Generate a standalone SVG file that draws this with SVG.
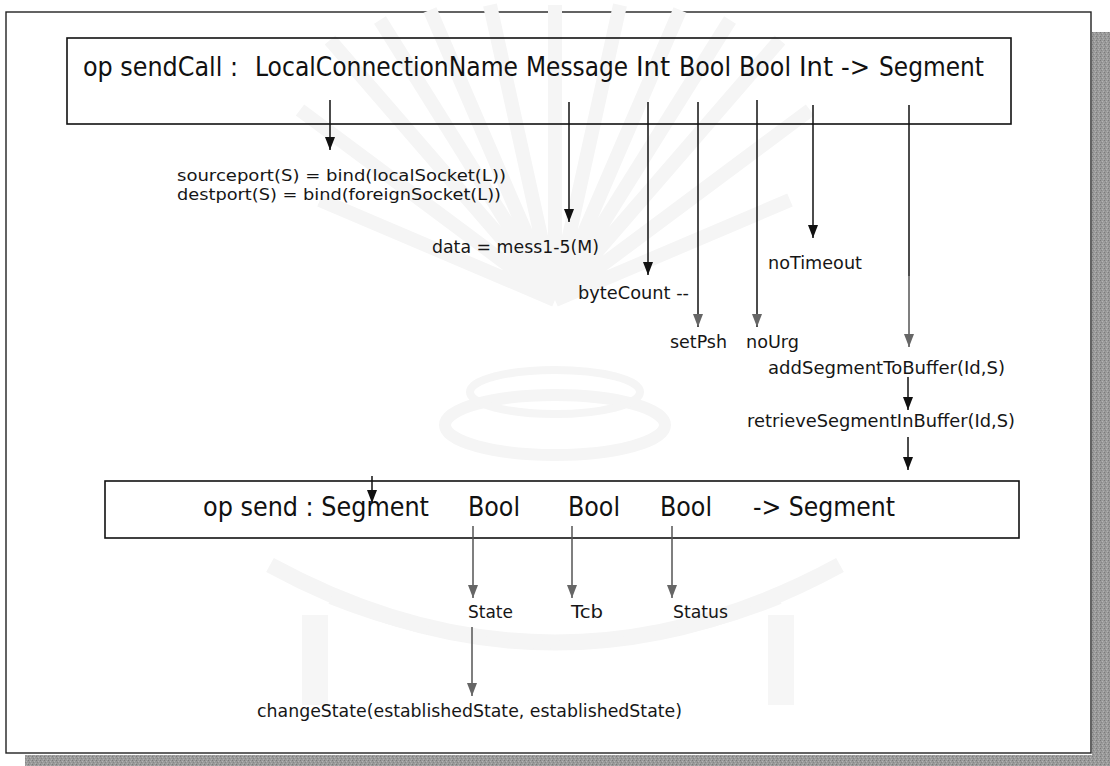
<svg xmlns="http://www.w3.org/2000/svg" width="1110" height="766" viewBox="0 0 1110 766">
  <style>
    .lbl { font-family: "DejaVu Sans", "Liberation Sans", sans-serif; font-size: 18px; fill: #161616; }
    .lbl-s { font-family: "DejaVu Sans", "Liberation Sans", sans-serif; font-size: 16px; fill: #161616; }
    .big { font-family: "DejaVu Sans Condensed", "DejaVu Sans", sans-serif; font-size: 27px; fill: #111; }
    .box { fill: none; stroke: #111; stroke-width: 1.6; }
    .frame { fill: #fff; stroke: #222; stroke-width: 1.4; }
    .wire { stroke: #111; stroke-width: 1.5; fill: none; }
    .wire-g { stroke: #555; stroke-width: 1.5; fill: none; }
    .wm { fill: none; stroke: #f5f5f5; }
  </style>
  <defs>
    <marker id="ah" viewBox="0 0 13 10" refX="13" refY="5" markerWidth="13" markerHeight="10" markerUnits="userSpaceOnUse" orient="auto">
      <path d="M0,0 L13,5 L0,10 z" fill="#111"/>
    </marker>
    <marker id="ahg" viewBox="0 0 13 10" refX="13" refY="5" markerWidth="13" markerHeight="10" markerUnits="userSpaceOnUse" orient="auto">
      <path d="M0,0 L13,5 L0,10 z" fill="#666"/>
    </marker>
    <pattern id="grain" width="4" height="4" patternUnits="userSpaceOnUse">
      <rect width="4" height="4" fill="#9a9a9a"/>
      <rect x="0" y="0" width="1" height="1" fill="#7a7a7a"/>
      <rect x="2" y="1" width="1" height="1" fill="#b4b4b4"/>
      <rect x="1" y="2" width="1" height="1" fill="#858585"/>
      <rect x="3" y="3" width="1" height="1" fill="#b0b0b0"/>
    </pattern>
  </defs>

  <rect width="1110" height="766" fill="#fff"/>

  <!-- drop shadow of the page frame -->
  <g id="shadow">
    <rect x="1092" y="32" width="18" height="734" fill="url(#grain)"/>
    <rect x="25" y="755" width="1085" height="11" fill="url(#grain)"/>
  </g>

  <!-- page frame -->
  <rect id="frame" class="frame" x="6" y="12" width="1085" height="741"/>

  <!-- faint background emblem -->
  <g id="watermark">
    <g class="wm" stroke-width="14">
      <path d="M555,300 L330,40 M555,300 L380,20 M555,300 L430,10 M555,300 L490,5 M555,300 L555,5 M555,300 L620,5 M555,300 L680,10 M555,300 L730,20 M555,300 L780,40 M555,300 L300,110 M555,300 L810,110 M555,300 L320,200 M555,300 L790,200"/>
    </g>
    <ellipse class="wm" cx="555" cy="425" rx="110" ry="30" stroke-width="12"/>
    <ellipse class="wm" cx="555" cy="392" rx="85" ry="22" stroke-width="8"/>
    <path class="wm" d="M270,565 Q555,720 840,565" stroke-width="16"/>
    <path class="wm" d="M330,600 Q555,690 780,600" stroke-width="8"/>
    <rect x="302" y="615" width="26" height="90" fill="#f6f6f6"/>
    <rect x="768" y="615" width="26" height="90" fill="#f6f6f6"/>
  </g>

  <!-- signature of sendCall -->
  <g id="node-sendCall">
    <rect class="box" x="67" y="38" width="944" height="86"/>
    <text class="big" x="83" y="76" textLength="155" lengthAdjust="spacingAndGlyphs">op sendCall :</text>
    <text class="big" x="255" y="76" textLength="263" lengthAdjust="spacingAndGlyphs">LocalConnectionName</text>
    <text class="big" x="526" y="76" textLength="102" lengthAdjust="spacingAndGlyphs">Message</text>
    <text class="big" x="636" y="76" textLength="34" lengthAdjust="spacingAndGlyphs">Int</text>
    <text class="big" x="679" y="76" textLength="52" lengthAdjust="spacingAndGlyphs">Bool</text>
    <text class="big" x="739" y="76" textLength="52" lengthAdjust="spacingAndGlyphs">Bool</text>
    <text class="big" x="799" y="76" textLength="34" lengthAdjust="spacingAndGlyphs">Int</text>
    <text class="big" x="841" y="76" textLength="29" lengthAdjust="spacingAndGlyphs">-&gt;</text>
    <text class="big" x="879" y="76" textLength="105" lengthAdjust="spacingAndGlyphs">Segment</text>
  </g>

  <!-- signature of send -->
  <g id="node-send">
    <rect class="box" x="105" y="481" width="914" height="57"/>
    <text class="big" x="203" y="516" textLength="226" lengthAdjust="spacingAndGlyphs">op send : Segment</text>
    <text class="big" x="468" y="516" textLength="52" lengthAdjust="spacingAndGlyphs">Bool</text>
    <text class="big" x="568" y="516" textLength="52" lengthAdjust="spacingAndGlyphs">Bool</text>
    <text class="big" x="660" y="516" textLength="52" lengthAdjust="spacingAndGlyphs">Bool</text>
    <text class="big" x="753" y="516" textLength="142" lengthAdjust="spacingAndGlyphs">-&gt; Segment</text>
  </g>

  <g id="node-ports">
    <text class="lbl-s" x="177" y="181" textLength="329" lengthAdjust="spacingAndGlyphs">sourceport(S)  = bind(localSocket(L))</text>
    <text class="lbl-s" x="177" y="200" textLength="324" lengthAdjust="spacingAndGlyphs">destport(S) = bind(foreignSocket(L))</text>
  </g>
  <g id="node-data"><text class="lbl" x="432" y="253" textLength="167" lengthAdjust="spacingAndGlyphs">data = mess1-5(M)</text></g>
  <g id="node-noTimeout"><text class="lbl" x="768" y="269" textLength="94" lengthAdjust="spacingAndGlyphs">noTimeout</text></g>
  <g id="node-byteCount"><text class="lbl" x="578" y="299" textLength="111" lengthAdjust="spacingAndGlyphs">byteCount --</text></g>
  <g id="node-setPsh"><text class="lbl" x="670" y="348" textLength="57" lengthAdjust="spacingAndGlyphs">setPsh</text></g>
  <g id="node-noUrg"><text class="lbl" x="746" y="348" textLength="53" lengthAdjust="spacingAndGlyphs">noUrg</text></g>
  <g id="node-addSegment"><text class="lbl" x="768" y="374" textLength="237" lengthAdjust="spacingAndGlyphs">addSegmentToBuffer(Id,S)</text></g>
  <g id="node-retrieveSegment"><text class="lbl" x="747" y="427" textLength="268" lengthAdjust="spacingAndGlyphs">retrieveSegmentInBuffer(Id,S)</text></g>
  <g id="node-State"><text class="lbl" x="468" y="618" textLength="45" lengthAdjust="spacingAndGlyphs">State</text></g>
  <g id="node-Tcb"><text class="lbl" x="571" y="618" textLength="32" lengthAdjust="spacingAndGlyphs">Tcb</text></g>
  <g id="node-Status"><text class="lbl" x="673" y="618" textLength="55" lengthAdjust="spacingAndGlyphs">Status</text></g>
  <g id="node-changeState"><text class="lbl" x="257" y="717" textLength="425" lengthAdjust="spacingAndGlyphs">changeState(establishedState, establishedState)</text></g>

  <g id="connectors">
    <line class="wire" x1="330" y1="100" x2="330" y2="150" marker-end="url(#ah)"/>
    <line class="wire" x1="569" y1="102" x2="569" y2="222" marker-end="url(#ah)"/>
    <line class="wire" x1="648" y1="102" x2="648" y2="275" marker-end="url(#ah)"/>
    <line class="wire" x1="698" y1="102" x2="698" y2="327" marker-end="url(#ahg)"/>
    <line class="wire" x1="757" y1="100" x2="757" y2="327" marker-end="url(#ahg)"/>
    <line class="wire" x1="813" y1="105" x2="813" y2="238" marker-end="url(#ah)"/>
    <line class="wire" x1="909" y1="105" x2="909" y2="276"/>
    <line class="wire-g" x1="909" y1="276" x2="909" y2="347" marker-end="url(#ahg)"/>
    <line class="wire" x1="908" y1="377" x2="908" y2="410" marker-end="url(#ah)"/>
    <line class="wire" x1="908" y1="437" x2="908" y2="470" marker-end="url(#ah)"/>
    <line class="wire" x1="372" y1="476" x2="372" y2="503" marker-end="url(#ah)"/>
    <line class="wire-g" x1="473" y1="526" x2="473" y2="598" marker-end="url(#ahg)"/>
    <line class="wire-g" x1="572" y1="526" x2="572" y2="598" marker-end="url(#ahg)"/>
    <line class="wire-g" x1="672" y1="526" x2="672" y2="598" marker-end="url(#ahg)"/>
    <line class="wire-g" x1="472" y1="627" x2="472" y2="696" marker-end="url(#ahg)"/>
  </g>
</svg>
